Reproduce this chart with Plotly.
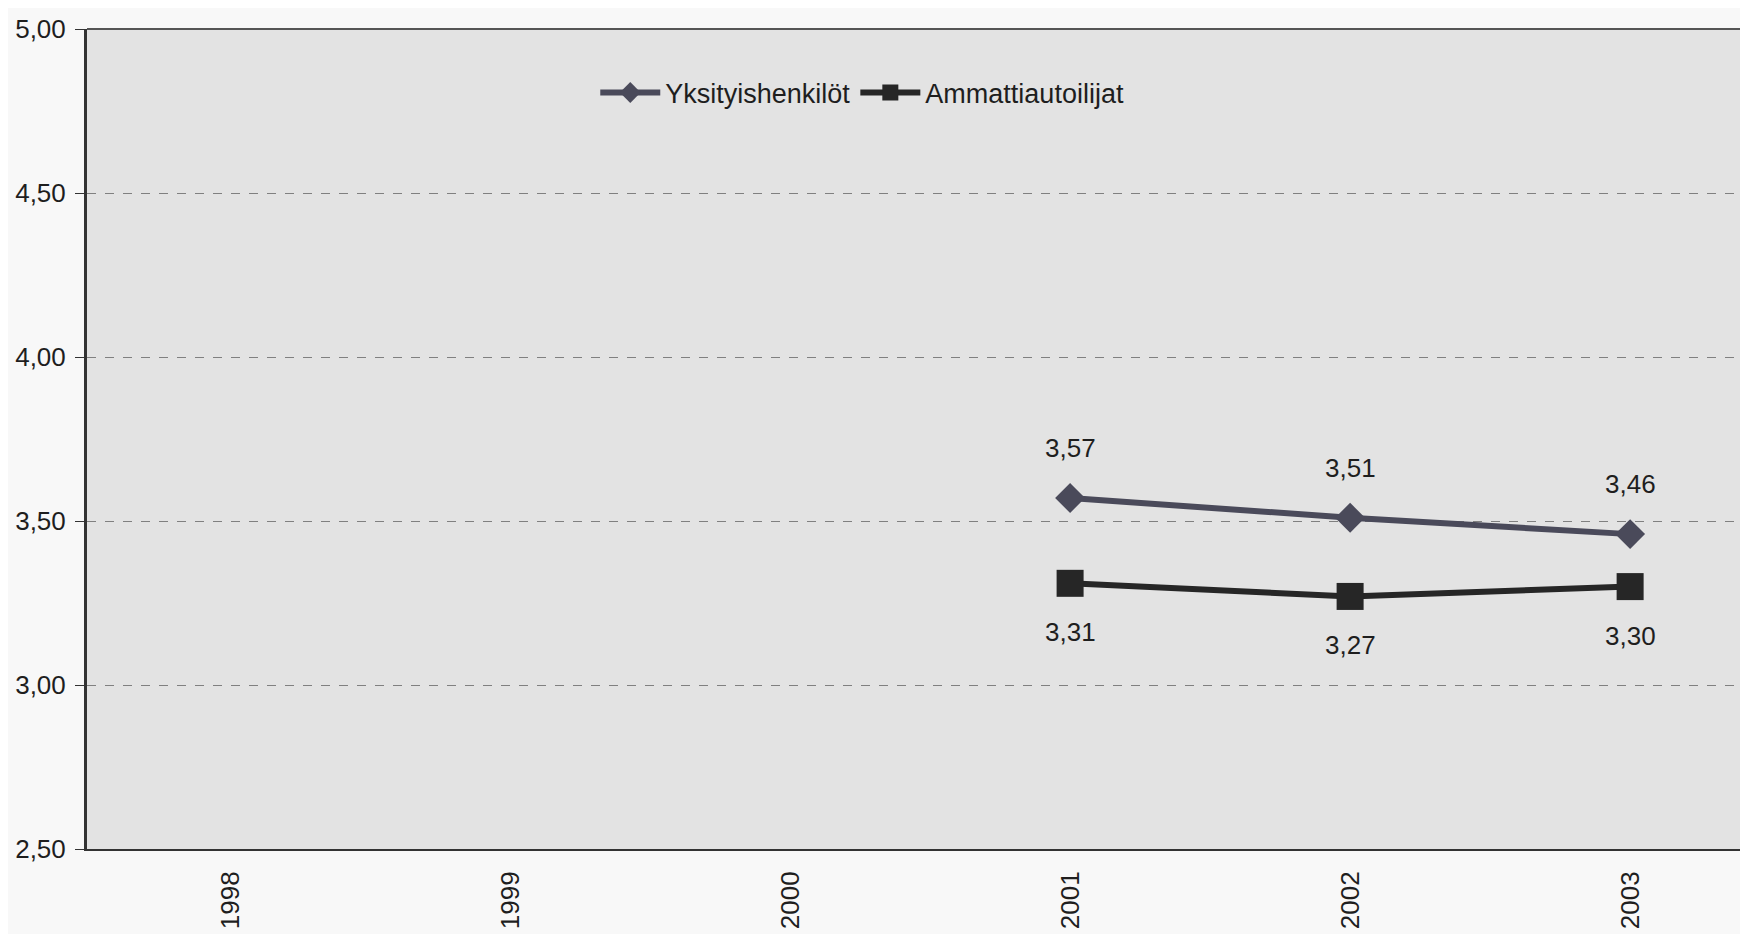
import plotly.graph_objects as go

years = ["1998", "1999", "2000", "2001", "2002", "2003"]
yksityis = [None, None, None, 3.57, 3.51, 3.46]
ammatti = [None, None, None, 3.31, 3.27, 3.30]
yksityis_labels = ["", "", "", "3,57", "3,51", "3,46"]
ammatti_labels = ["", "", "", "3,31", "3,27", "3,30"]
y_ticks = [2.5, 3.0, 3.5, 4.0, 4.5, 5.0]

FONT = "Liberation Sans, Arial, sans-serif"
C1 = "#4a4a5a"
C2 = "#262626"

fig = go.Figure()
fig.add_trace(go.Scatter(
    x=years, y=yksityis, name="Yksityishenkilöt", mode="lines+markers",
    line=dict(color=C1, width=6),
    marker=dict(symbol="diamond", size=23, color=C1),
    connectgaps=False,
))
fig.add_trace(go.Scatter(
    x=years, y=ammatti, name="Ammattiautoilijat", mode="lines+markers",
    line=dict(color=C2, width=6),
    marker=dict(symbol="square", size=27, color=C2),
    connectgaps=False,
))

annotations = []
for i, (yv, t) in enumerate(zip(yksityis, yksityis_labels)):
    if yv is not None:
        annotations.append(dict(x=i, y=yv, xref="x", yref="y", text=t, showarrow=False, yshift=50,
                                font=dict(family=FONT, size=26, color="#1e1e1e")))
for i, (yv, t) in enumerate(zip(ammatti, ammatti_labels)):
    if yv is not None:
        annotations.append(dict(x=i, y=yv, xref="x", yref="y", text=t, showarrow=False, yshift=-49,
                                font=dict(family=FONT, size=26, color="#1e1e1e")))

fig.update_layout(
    width=1740, height=926,
    margin=dict(l=79, r=0, t=21, b=85),
    paper_bgcolor="#f8f8f8",
    plot_bgcolor="#e3e3e3",
    separators=", ",
    font=dict(family=FONT, size=26, color="#1e1e1e"),
    showlegend=True,
    legend=dict(
        orientation="h", x=0.306, xanchor="left", y=0.922, yanchor="middle",
        bgcolor="rgba(0,0,0,0)", font=dict(family=FONT, size=27, color="#1e1e1e"),
        itemwidth=60,
    ),
    annotations=annotations,
    shapes=[dict(type="line", xref="paper", yref="paper", x0=0, x1=1, y0=1, y1=1,
                 line=dict(color="#555", width=2))],
)
fig.update_xaxes(
    type="category", categoryorder="array", categoryarray=years,
    range=[-0.511, 5.421], tickangle=-90, showgrid=False,
    showline=True, linecolor="#333", linewidth=2, ticks="",
    ticklabelstandoff=10,
    tickfont=dict(family=FONT, size=26, color="#1e1e1e"),
)
fig.update_yaxes(
    range=[2.5, 5.0], tickvals=y_ticks, tickformat=".2f",
    showgrid=True, gridcolor="#808080", gridwidth=1, griddash="dash",
    showline=True, linecolor="#333", linewidth=3, ticks="outside", ticklen=9,
    tickcolor="#333", tickwidth=1, ticklabelstandoff=4,
    tickfont=dict(family=FONT, size=26, color="#1e1e1e"), zeroline=False,
)
fig.write_html("out.html")
